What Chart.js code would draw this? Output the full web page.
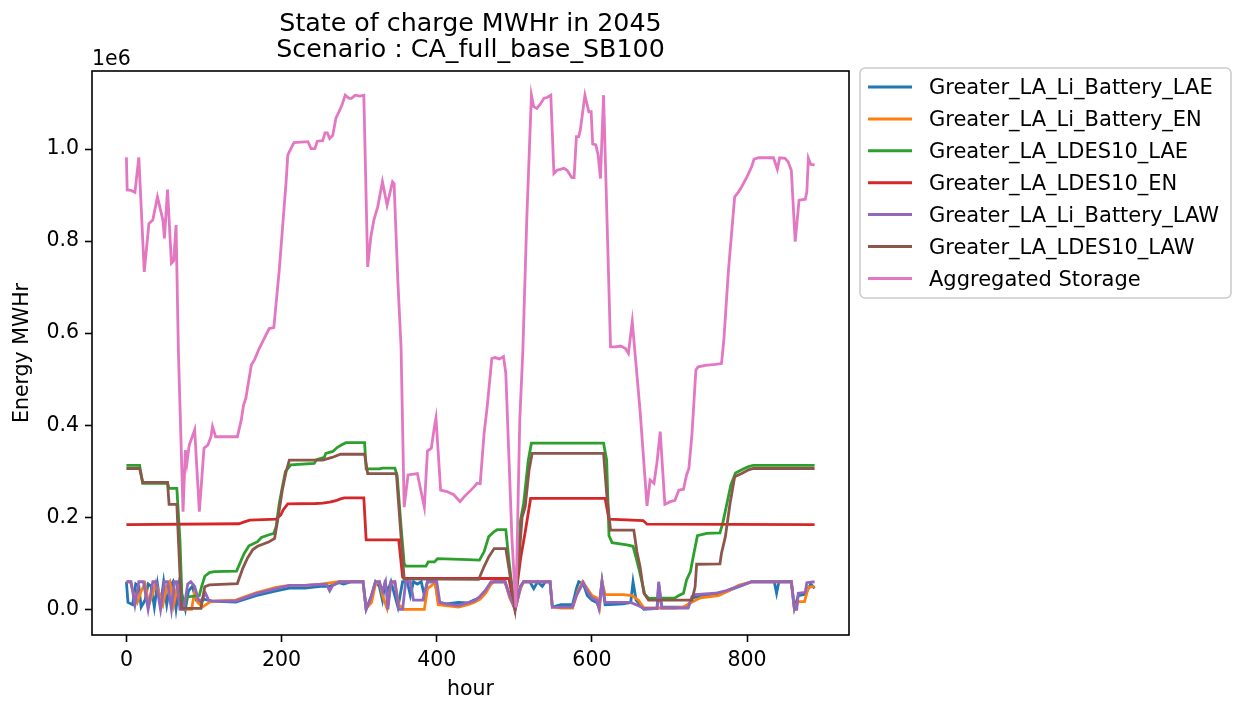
<!DOCTYPE html>
<html>
<head>
<meta charset="utf-8">
<script src="https://cdn.jsdelivr.net/npm/chart.js@4.4.1/dist/chart.umd.min.js"></script>
<style>
  html, body { margin: 0; padding: 0; background: #ffffff; }
  canvas { display: block; }
</style>
</head>
<body>
<canvas id="soc" width="1235" height="702"></canvas>
<script>
// State of charge per storage resource, [hour, MWh] pairs
const liBatteryLAE = [[0,60000],[2,15000],[8,10000],[12,55000],[16,50000],[19,5000],[24,20000],[28,55000],[32,50000],[36,5000],[40,55000],[44,10000],[48,60000],[52,10000],[56,50000],[60,60000],[64,2000],[68,55000],[72,30000],[76,0],[80,40000],[85,50000],[90,20000],[96,15000],[100,22000],[110,18000],[141,16000],[167,30000],[193,40000],[210,46000],[230,46000],[250,50000],[262,50000],[274,58000],[280,55000],[290,60000],[305,60000],[309,0],[316,30000],[321,60000],[326,50000],[330,20000],[333,55000],[337,40000],[341,60000],[346,30000],[350,5000],[356,60000],[362,60000],[366,30000],[370,60000],[375,55000],[380,60000],[384,30000],[388,60000],[398,60000],[402,15000],[412,12000],[428,15000],[440,14000],[448,20000],[456,25000],[463,40000],[469,55000],[474,60000],[488,60000],[494,30000],[501,0],[508,50000],[512,60000],[520,60000],[525,45000],[530,60000],[536,50000],[540,60000],[546,60000],[549,5000],[560,10000],[575,10000],[580,45000],[583,60000],[589,55000],[594,30000],[600,20000],[606,15000],[609,5000],[613,60000],[617,10000],[640,12000],[650,15000],[653,60000],[657,20000],[662,10000],[667,0],[684,2000],[686,55000],[690,5000],[724,5000],[729,25000],[740,28000],[760,33000],[775,40000],[790,50000],[806,60000],[835,60000],[838,35000],[841,60000],[857,60000],[861,2000],[866,30000],[875,33000],[879,45000],[882,55000],[887,46000]];

const liBatteryEN = [[0,60000],[5,60000],[10,30000],[14,15000],[19,40000],[24,55000],[29,10000],[34,35000],[38,58000],[43,30000],[47,10000],[52,50000],[56,60000],[61,10000],[65,45000],[69,55000],[73,0],[84,0],[88,40000],[92,15000],[98,5000],[104,12000],[110,18000],[141,20000],[167,36000],[193,48000],[210,52000],[230,52000],[250,55000],[274,60000],[305,60000],[309,2000],[316,15000],[321,55000],[326,60000],[331,25000],[336,2000],[341,55000],[346,60000],[351,10000],[358,0],[384,0],[388,45000],[398,58000],[402,10000],[412,8000],[428,5000],[440,10000],[448,15000],[456,22000],[463,35000],[470,55000],[474,60000],[488,60000],[494,25000],[501,0],[508,45000],[512,60000],[546,60000],[549,5000],[560,3000],[575,3000],[582,40000],[588,60000],[594,45000],[600,30000],[606,25000],[610,5000],[613,60000],[617,32000],[640,32000],[652,30000],[660,20000],[667,3000],[707,3000],[718,5000],[728,15000],[740,25000],[763,30000],[776,40000],[789,52000],[802,58000],[806,60000],[857,60000],[861,2000],[866,17000],[874,17000],[879,48000],[887,50000]];

const ldes10LAE = [[0,313000],[17,313000],[21,274000],[53,274000],[55,263000],[65,263000],[69,151000],[72,5000],[76,10000],[78,27000],[94,30000],[97,50000],[101,72000],[107,80000],[113,82000],[142,83000],[148,107000],[152,122000],[158,138000],[163,142000],[169,147000],[174,156000],[182,161000],[190,165000],[193,180000],[197,230000],[201,266000],[205,300000],[212,314000],[242,317000],[245,325000],[255,330000],[257,339000],[266,343000],[272,352000],[277,357000],[283,362000],[307,362000],[309,305000],[326,305000],[330,307000],[346,307000],[349,290000],[354,180000],[358,100000],[360,94000],[386,94000],[389,103000],[397,103000],[401,110000],[440,108000],[455,107000],[461,125000],[467,158000],[474,169000],[478,173000],[489,173000],[493,107000],[500,5000],[508,194000],[512,230000],[518,324000],[522,361000],[615,361000],[619,324000],[622,160000],[626,145000],[645,140000],[653,137000],[657,112000],[661,85000],[668,33000],[673,24000],[707,25000],[712,30000],[718,35000],[722,64000],[727,82000],[731,118000],[736,160000],[748,165000],[765,166000],[769,190000],[774,230000],[779,270000],[785,296000],[795,305000],[802,310000],[808,313000],[887,313000]];

const ldes10EN = [[0,184000],[145,186000],[152,190000],[159,194000],[193,196000],[199,205000],[202,216000],[208,229000],[244,230000],[253,231000],[262,233000],[270,236000],[276,240000],[281,242000],[306,242000],[309,151000],[351,151000],[356,70000],[358,67000],[493,67000],[500,5000],[508,110000],[514,168000],[521,241000],[617,241000],[622,196000],[666,193000],[671,185000],[887,184000]];

const liBatteryLAW = [[0,60000],[6,60000],[11,10000],[16,60000],[22,60000],[28,0],[34,60000],[38,60000],[44,0],[49,60000],[53,60000],[58,0],[62,60000],[65,60000],[69,0],[74,0],[79,55000],[83,60000],[88,50000],[93,20000],[97,20000],[102,35000],[106,20000],[110,18000],[141,18000],[167,34000],[193,45000],[210,52000],[230,52000],[250,54000],[258,54000],[262,40000],[266,52000],[274,60000],[305,60000],[309,0],[314,20000],[321,60000],[326,60000],[330,40000],[334,60000],[337,0],[341,60000],[346,60000],[351,0],[356,0],[360,60000],[366,60000],[370,20000],[382,20000],[388,60000],[400,60000],[404,15000],[412,12000],[428,8000],[435,12000],[448,18000],[455,27000],[463,42000],[470,60000],[488,60000],[494,30000],[501,0],[508,50000],[512,60000],[546,60000],[549,5000],[575,5000],[580,30000],[589,58000],[594,40000],[600,25000],[606,20000],[609,2000],[613,60000],[617,15000],[650,15000],[660,8000],[667,2000],[684,2000],[686,60000],[690,3000],[724,3000],[729,28000],[733,32000],[759,35000],[772,40000],[780,45000],[793,52000],[806,60000],[857,60000],[861,0],[864,0],[866,35000],[875,37000],[877,58000],[887,60000]];

const ldes10LAW = [[0,306000],[17,306000],[21,276000],[53,276000],[55,228000],[65,228000],[71,2000],[96,2000],[101,49000],[107,53000],[143,56000],[150,89000],[156,111000],[163,130000],[169,137000],[184,147000],[191,154000],[195,194000],[201,260000],[206,300000],[210,324000],[253,324000],[265,330000],[276,337000],[307,337000],[311,295000],[348,295000],[358,66000],[454,65000],[461,93000],[467,114000],[474,132000],[489,132000],[493,90000],[501,2000],[510,200000],[514,223000],[519,303000],[523,339000],[615,339000],[619,252000],[624,172000],[654,172000],[658,125000],[662,93000],[667,35000],[673,20000],[729,20000],[733,49000],[735,98000],[765,99000],[767,122000],[772,158000],[778,230000],[784,288000],[793,295000],[802,303000],[808,306000],[887,306000]];

const aggregatedStorage = [[0,982000],[1,911000],[6,910000],[11,906000],[16,982000],[23,733000],[29,838000],[34,846000],[40,896000],[47,846000],[49,806000],[53,912000],[58,752000],[61,757000],[64,835000],[67,560000],[73,212000],[76,346000],[78,318000],[81,357000],[88,390000],[94,212000],[100,350000],[105,357000],[109,375000],[111,397000],[115,375000],[143,375000],[148,411000],[151,444000],[154,459000],[161,531000],[165,542000],[171,566000],[178,590000],[184,610000],[190,612000],[197,737000],[201,824000],[206,933000],[208,987000],[212,1001000],[216,1014000],[234,1016000],[238,1001000],[243,1001000],[246,1017000],[253,1018000],[256,1035000],[259,1035000],[262,1023000],[266,1030000],[270,1067000],[274,1081000],[278,1096000],[282,1117000],[287,1110000],[290,1110000],[295,1117000],[301,1115000],[306,1117000],[311,744000],[315,809000],[319,846000],[324,875000],[330,929000],[336,878000],[343,929000],[345,925000],[350,708000],[354,570000],[358,222000],[363,292000],[375,295000],[384,222000],[388,344000],[393,350000],[397,397000],[399,416000],[405,259000],[413,256000],[422,249000],[430,234000],[436,246000],[444,259000],[448,266000],[452,274000],[456,273000],[461,382000],[465,440000],[471,545000],[475,547000],[481,544000],[486,549000],[489,513000],[493,332000],[497,151000],[502,4000],[507,411000],[511,563000],[516,846000],[520,1027000],[522,1117000],[525,1092000],[529,1088000],[534,1099000],[538,1110000],[542,1112000],[547,1117000],[551,947000],[555,954000],[564,958000],[568,954000],[574,938000],[577,938000],[580,1027000],[583,1027000],[585,1041000],[591,1117000],[596,1081000],[599,1081000],[601,1011000],[605,1009000],[608,987000],[611,936000],[615,1117000],[624,570000],[630,570000],[637,572000],[643,567000],[647,556000],[652,625000],[662,433000],[671,225000],[675,281000],[680,274000],[684,321000],[688,386000],[694,228000],[701,234000],[707,237000],[712,259000],[718,261000],[722,292000],[725,306000],[729,382000],[734,520000],[737,527000],[746,530000],[759,532000],[767,534000],[770,585000],[776,737000],[784,896000],[789,907000],[793,918000],[800,940000],[806,962000],[809,978000],[815,981000],[834,981000],[839,956000],[842,981000],[849,980000],[853,972000],[857,954000],[862,799000],[867,889000],[875,891000],[877,907000],[879,980000],[882,967000],[887,965000]];

const seriesLabels = [
  'Greater_LA_Li_Battery_LAE',
  'Greater_LA_Li_Battery_EN',
  'Greater_LA_LDES10_LAE',
  'Greater_LA_LDES10_EN',
  'Greater_LA_Li_Battery_LAW',
  'Greater_LA_LDES10_LAW',
  'Aggregated Storage'
];
const seriesData = [liBatteryLAE, liBatteryEN, ldes10LAE, ldes10EN, liBatteryLAW, ldes10LAW, aggregatedStorage];
const seriesColors = ['#1f77b4', '#ff7f0e', '#2ca02c', '#d62728', '#9467bd', '#8c564b', '#e377c2'];

const xTicks = [0, 200, 400, 600, 800];
const yTicks = [0, 200000, 400000, 600000, 800000, 1000000];
const titleLines = ['State of charge MWHr in 2045', 'Scenario : CA_full_base_SB100'];
const xTitle = 'hour';
const yTitle = 'Energy MWHr';
const yOffsetText = '1e6';

const FONT = "'DejaVu Sans', sans-serif";
const BASE_PX = 20.5;
const LEGEND_PX = 21;
const TITLE_PX = 25.3;

// Draws the axes frame, the two-line title, the 1e6 multiplier and the legend box
const decorations = {
  id: 'decorations',
  afterDraw(chart) {
    const ctx = chart.ctx;
    const a = chart.chartArea;
    ctx.save();

    // frame around the plot area
    ctx.strokeStyle = '#000000';
    ctx.lineWidth = 1.6;
    ctx.strokeRect(a.left, a.top, a.right - a.left, a.bottom - a.top);

    // title
    ctx.fillStyle = '#000000';
    ctx.font = TITLE_PX + 'px ' + FONT;
    ctx.textAlign = 'center';
    ctx.textBaseline = 'alphabetic';
    const cx = (a.left + a.right) / 2;
    ctx.fillText(titleLines[0], cx, 31);
    ctx.fillText(titleLines[1], cx, 57);

    // multiplier for the y tick labels
    ctx.font = BASE_PX + 'px ' + FONT;
    ctx.textAlign = 'left';
    ctx.fillText(yOffsetText, a.left, 65);

    // legend
    const box = { x: 860, y: 68, w: 371, h: 230, r: 5 };
    ctx.beginPath();
    ctx.roundRect(box.x, box.y, box.w, box.h, box.r);
    ctx.fillStyle = 'rgba(255,255,255,0.8)';
    ctx.fill();
    ctx.strokeStyle = '#cccccc';
    ctx.lineWidth = 1.6;
    ctx.stroke();

    const rowTop = 87;
    const rowGap = 31.9;
    ctx.font = LEGEND_PX + 'px ' + FONT;
    ctx.textBaseline = 'middle';
    chart.data.datasets.forEach((ds, i) => {
      const y = rowTop + i * rowGap;
      ctx.beginPath();
      ctx.moveTo(868, y);
      ctx.lineTo(912, y);
      ctx.strokeStyle = ds.borderColor;
      ctx.lineWidth = 3;
      ctx.stroke();
      ctx.fillStyle = '#000000';
      ctx.fillText(ds.label, 929, y + 2);
    });
    ctx.restore();
  }
};

const tickFont = { family: FONT, size: BASE_PX };

new Chart(document.getElementById('soc'), {
  type: 'line',
  data: {
    datasets: seriesData.map((pts, i) => ({
      label: seriesLabels[i],
      data: pts.map(([h, v]) => ({ x: h, y: v })),
      borderColor: seriesColors[i],
      backgroundColor: seriesColors[i],
      borderWidth: 2.8,
      pointRadius: 0,
      tension: 0,
      fill: false,
      order: seriesData.length - i
    }))
  },
  options: {
    responsive: false,
    animation: false,
    devicePixelRatio: 1,
    layout: { padding: { left: 0, right: 386, top: 71, bottom: 0 } },
    plugins: {
      legend: { display: false },
      title: { display: false },
      tooltip: { enabled: false }
    },
    scales: {
      x: {
        type: 'linear',
        min: -44.35,
        max: 931.35,
        afterFit: (s) => { s.height = 67; },
        afterBuildTicks: (s) => { s.ticks = xTicks.map(v => ({ value: v })); },
        ticks: {
          font: tickFont, color: '#000000', padding: 6, maxRotation: 0, autoSkip: false,
          callback: (v) => String(v)
        },
        grid: { display: true, drawOnChartArea: false, drawTicks: true, tickLength: 7, tickWidth: 1.6, tickColor: '#000000' },
        border: { display: false },
        title: { display: true, text: xTitle, font: { family: FONT, size: BASE_PX }, color: '#000000', padding: { top: 0, bottom: 0 } }
      },
      y: {
        type: 'linear',
        min: -55700,
        max: 1169500,
        afterFit: (s) => { s.width = 92; },
        afterBuildTicks: (s) => { s.ticks = yTicks.map(v => ({ value: v })); },
        ticks: {
          font: tickFont, color: '#000000', padding: 6, autoSkip: false,
          callback: (v) => (v / 1e6).toFixed(1)
        },
        grid: { display: true, drawOnChartArea: false, drawTicks: true, tickLength: 7, tickWidth: 1.6, tickColor: '#000000' },
        border: { display: false },
        title: { display: true, text: yTitle, font: { family: FONT, size: BASE_PX }, color: '#000000', padding: { top: 10, bottom: 0 } }
      }
    }
  },
  plugins: [decorations]
});
</script>
</body>
</html>
